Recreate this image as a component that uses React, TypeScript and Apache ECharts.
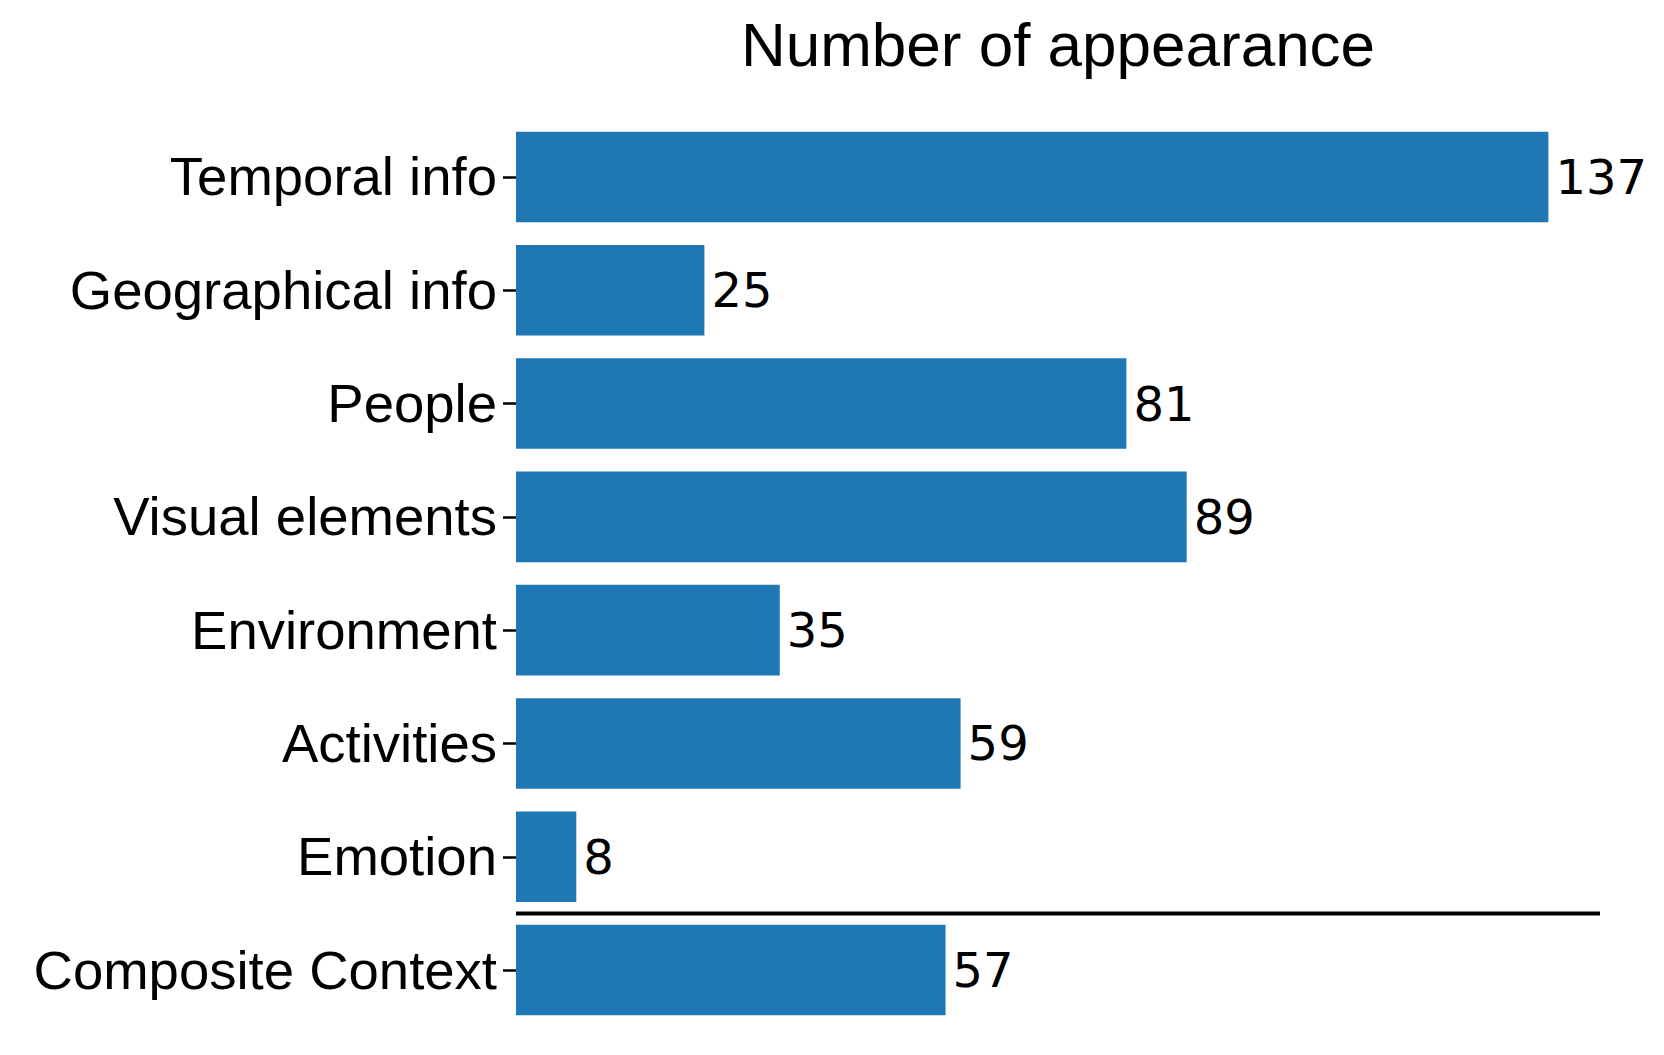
import React, { useEffect, useRef } from "react";
import * as echarts from "echarts";

const categories = [
  "Temporal info",
  "Geographical info",
  "People",
  "Visual elements",
  "Environment",
  "Activities",
  "Emotion",
  "Composite Context",
];
const counts = [137, 25, 81, 89, 35, 59, 8, 57];
const titleText = "Number of appearance";
const separatorAfter = "Emotion";

const W = 1664;
const H = 1055;

export default function App() {
  const ref = useRef<HTMLDivElement>(null);
  useEffect(() => {
    if (!ref.current) return;
    const chart = echarts.init(ref.current, undefined, { renderer: "svg", width: W, height: H });
    const xMax = Math.max(...counts) * 1.05;
    const grid = { left: 516, right: 64, top: 120.3, bottom: 28.3 };
    chart.setOption({
      animation: false,
      backgroundColor: "#ffffff",
      grid: { ...grid, containLabel: false },
      xAxis: {
        type: "value",
        min: 0,
        max: xMax,
        show: false,
      },
      yAxis: {
        type: "category",
        data: categories,
        inverse: true,
        axisLine: { show: false },
        axisTick: { show: true, length: 13, lineStyle: { color: "#000", width: 2.5 }, alignWithLabel: true },
        axisLabel: {
          margin: 19,
          color: "#000",
          fontSize: 54.5,
          fontFamily: "'Liberation Sans', Arial, Helvetica, sans-serif",
        },
        splitLine: { show: false },
      },
      series: [
        {
          type: "bar",
          data: counts,
          barCategoryGap: "20%",
          itemStyle: { color: "#1f77b4" },
          label: {
            show: true,
            position: "right",
            distance: 7,
            color: "#000",
            fontSize: 48,
            fontFamily: "'DejaVu Sans', sans-serif",
          },
        },
      ],
    });
    const idx = categories.indexOf(separatorAfter);
    const y1 = chart.convertToPixel({ yAxisIndex: 0 }, categories[idx]) as number;
    const y2 = chart.convertToPixel({ yAxisIndex: 0 }, categories[idx + 1]) as number;
    const x0 = chart.convertToPixel({ xAxisIndex: 0 }, 0) as number;
    const x1 = chart.convertToPixel({ xAxisIndex: 0 }, xMax) as number;
    const ySep = (y1 + y2) / 2;
    chart.setOption({
      graphic: [
        {
          type: "line",
          shape: { x1: x0, y1: ySep, x2: x1, y2: ySep },
          style: { stroke: "#000", lineWidth: 4 },
          z: 10,
        },
        {
          type: "text",
          x: (x0 + x1) / 2,
          y: 44.5,
          style: {
            text: titleText,
            textAlign: "center",
            textVerticalAlign: "middle",
            fill: "#000",
            fontSize: 62,
            fontFamily: "'Liberation Sans', Arial, Helvetica, sans-serif",
          },
        },
      ],
    });
    return () => chart.dispose();
  }, []);
  return (
    <div
      ref={ref}
      style={{ position: "fixed", left: 0, top: 0, width: W, height: H, background: "#fff" }}
    />
  );
}
